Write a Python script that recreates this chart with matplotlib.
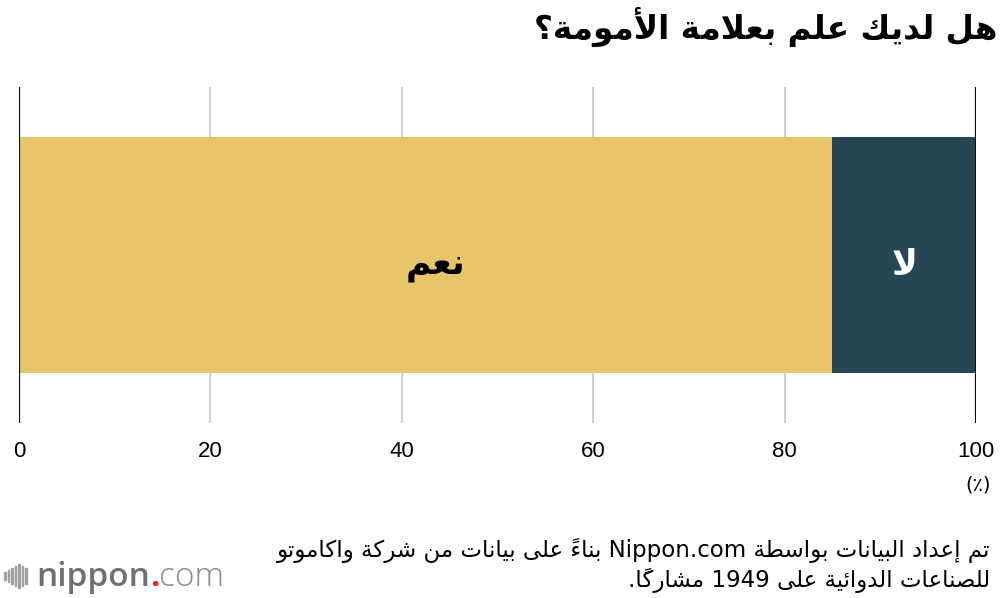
import matplotlib
matplotlib.use("Agg")
import matplotlib.pyplot as plt
from matplotlib.patches import Rectangle

# ---------------- data ----------------
categories = ["نعم", "لا"]
values = [85, 15]
colors = ["#E8C46B", "#274757"]
label_colors = ["#000000", "#FFFFFF"]
xticks = [0, 20, 40, 60, 80, 100]
title = "هل لديك علم بعلامة الأمومة؟"
unit = "(٪)"
source_lines = ["تم إعداد البيانات بواسطة Nippon.com بناءً على بيانات من شركة واكاموتو",
                "للصناعات الدوائية على 1949 مشاركًا."]

# ---------------- minimal Arabic shaping + bidi ----------------
FOUR = {'ئ': 0xFE89, 'ب': 0xFE8F, 'ت': 0xFE95, 'ث': 0xFE99, 'ج': 0xFE9D, 'ح': 0xFEA1,
        'خ': 0xFEA5, 'س': 0xFEB1, 'ش': 0xFEB5, 'ص': 0xFEB9, 'ض': 0xFEBD, 'ط': 0xFEC1,
        'ظ': 0xFEC5, 'ع': 0xFEC9, 'غ': 0xFECD, 'ف': 0xFED1, 'ق': 0xFED5, 'ك': 0xFED9,
        'ل': 0xFEDD, 'م': 0xFEE1, 'ن': 0xFEE5, 'ه': 0xFEE9, 'ي': 0xFEF1}
TWO = {'آ': 0xFE81, 'أ': 0xFE83, 'ؤ': 0xFE85, 'إ': 0xFE87, 'ا': 0xFE8D, 'ة': 0xFE93,
       'د': 0xFEA9, 'ذ': 0xFEAB, 'ر': 0xFEAD, 'ز': 0xFEAF, 'و': 0xFEED, 'ى': 0xFEEF}
ONE = {'ء': 0xFE80}
LAMALEF = {'آ': 0xFEF5, 'أ': 0xFEF7, 'إ': 0xFEF9, 'ا': 0xFEFB}


def is_mark(c):
    return 0x064B <= ord(c) <= 0x065F or ord(c) == 0x0670


def shape(text):
    chars = list(text)
    n = len(chars)

    def prev_letter(i):
        j = i - 1
        while j >= 0 and is_mark(chars[j]):
            j -= 1
        return chars[j] if j >= 0 else None

    def next_index(i):
        j = i + 1
        while j < n and is_mark(chars[j]):
            j += 1
        return j if j < n else None

    out = []
    i = 0
    while i < n:
        c = chars[i]
        p = prev_letter(i)
        pj = p in FOUR
        if c == 'ل':
            j = next_index(i)
            if j is not None and chars[j] in LAMALEF and j == i + 1:
                base = LAMALEF[chars[j]]
                out.append(chr(base + (1 if pj else 0)))
                i = j + 1
                continue
        if c in FOUR:
            j = next_index(i)
            nj = j is not None and (chars[j] in FOUR or chars[j] in TWO)
            base = FOUR[c]
            if pj and nj:
                out.append(chr(base + 3))
            elif pj:
                out.append(chr(base + 1))
            elif nj:
                out.append(chr(base + 2))
            else:
                out.append(chr(base))
        elif c in TWO:
            out.append(chr(TWO[c] + (1 if pj else 0)))
        elif c in ONE:
            out.append(chr(ONE[c]))
        else:
            out.append(c)
        i += 1
    return "".join(out)


def is_ltr(c):
    return c.isascii() and c.isalnum()


def visual(text):
    s = shape(text)
    # clusters: marks placed before their base so they render over it
    clusters = []
    for ch in s:
        if is_mark(ch) and clusters:
            clusters[-1] = ch + clusters[-1]
        else:
            clusters.append(ch)
    runs = []
    k = 0
    while k < len(clusters):
        c = clusters[k]
        if is_ltr(c[0]):
            j = k
            while j < len(clusters) and (is_ltr(clusters[j][0]) or
                                         (clusters[j][0] == '.' and j + 1 < len(clusters)
                                          and is_ltr(clusters[j + 1][0]))):
                j += 1
            runs.append(clusters[k:j])
            k = j
        else:
            runs.append([c])
            k += 1
    return "".join("".join(cl) for cl in reversed(runs))


# ---------------- figure ----------------
W, H = 1000, 598
fig = plt.figure(figsize=(W / 100, H / 100), dpi=100)
ax = fig.add_axes([19 / W, 1 - 423 / H, (976 - 19) / W, (423 - 87) / H])

left = 0
label_dx = [1.0, 0.0]
for cat, v, col, lc, dx in zip(categories, values, colors, label_colors, label_dx):
    ax.barh(0, v, left=left, height=0.702, color=col, zorder=2)
    ax.text(left + v / 2 + dx, -0.03, visual(cat), ha="center", va="center",
            fontsize=25, fontweight="bold", color=lc, family=["DejaVu Sans"], zorder=3)
    left += v

ax.set_xlim(0, 100)
ax.set_ylim(-0.5, 0.5)
for x in xticks:
    if x in (0, 100):
        ax.axvline(x, color="#111111", lw=1.6, zorder=4)
    else:
        ax.axvline(x, color="#CCCCCC", lw=1.3, zorder=1)
for s in ax.spines.values():
    s.set_visible(False)
ax.set_yticks([])
ax.set_xticks(xticks)
ax.set_xticklabels([str(x) for x in xticks], fontsize=16, family="Liberation Sans")
ax.tick_params(axis="x", length=0, pad=13)

fig.text(978 / W, 1 - 485 / H, unit, ha="center", va="center", fontsize=14,
         family=["DejaVu Sans"])

fig.text(997 / W, 1 - 27 / H, visual(title), ha="right", va="center", fontsize=23.5,
         fontweight="bold", family=["DejaVu Sans"])

for i, line in enumerate(source_lines):
    fig.text(990 / W, 1 - (551 + 30 * i) / H, visual(line), ha="right", va="center",
             fontsize=16.5, family=["DejaVu Sans"])

# nippon.com logo
bar_h = [8, 12, 16, 20, 24, 20, 16]
for i, h in enumerate(bar_h):
    xc = 4 + i * 3.5
    fig.patches.append(Rectangle((xc / W, (1 - 576 / H) - h / 2 / H), 1.6 / W, h / H,
                                 transform=fig.transFigure, color="#A0A0A0"))
t1 = fig.text(36 / W, 1 - 577 / H, "nippon", ha="left", va="center", fontsize=24,
              color="#707070", family="Open Sans", fontweight="semibold")
fig.canvas.draw()
bb = t1.get_window_extent()
t2 = fig.text(bb.x1 / W, 1 - 577 / H, ".", ha="left", va="center", fontsize=24,
              color="#E8242B", family="Open Sans", fontweight="bold")
fig.canvas.draw()
bb2 = t2.get_window_extent()
fig.text(bb2.x1 / W, 1 - 577 / H, "com", ha="left", va="center", fontsize=24,
         color="#8A8A8A", family="Open Sans", fontweight="light")

fig.savefig("out.png", dpi=100)
